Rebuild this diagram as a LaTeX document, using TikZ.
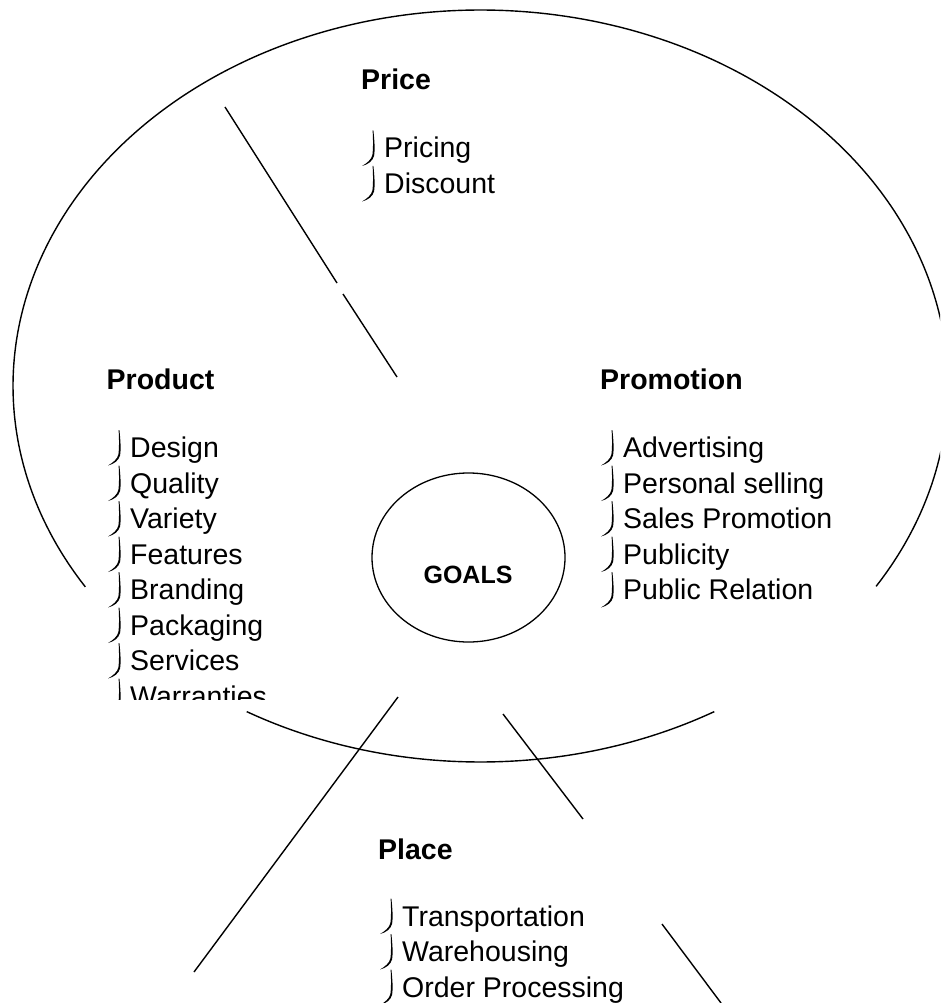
\documentclass[tikz,border=0pt]{standalone}
\usepackage{fontspec}
\setmainfont{Liberation Sans}
\usetikzlibrary{shapes.geometric}
\newcommand\litem[4]{\pic at (#2,#3) {bul}; \node[item] (#1) at (#2,#3) {#4};}
\begin{document}
\begin{tikzpicture}[x=1pt,y=-1pt,
  line/.style={line width=1.4pt},
  head/.style={anchor=base west, inner sep=0pt, font=\fontsize{28.5}{34}\bfseries},
  item/.style={anchor=base west, inner sep=0pt, font=\fontsize{28.5}{34}\selectfont},
  bul/.pic={\fill (-10.6,-27.5) .. controls (-9.6,-18) and (-8.8,-8) .. (-10.0,-2)
        .. controls (-11.3,3) and (-16,6.5) .. (-22,8)
        .. controls (-16.8,5) and (-12.6,1.5) .. (-11.6,-3)
        .. controls (-10.8,-9) and (-10.8,-18) .. (-11.4,-27.5) -- cycle;}
]
\useasboundingbox (0,0) rectangle (940,1003);
\clip (0,0) rectangle (940,1003);

% big ellipse (two arcs)
\draw[line] plot[domain=147.7:392.2, samples=200, smooth] ({480.5+467.5*cos(\x)},{386+376*sin(\x)});
\draw[line] plot[domain=60:120, samples=60, smooth] ({480.5+467.5*cos(\x)},{386+376*sin(\x)});

% goals
\node[draw, ellipse, line width=1.3pt, minimum width=193, minimum height=169, inner sep=0pt] (goals) at (468.5,557.5) {};
\node[anchor=base, inner sep=0pt, font=\fontsize{25}{30}\bfseries] (goalstext) at (468,583.5) {GOALS};

% separating lines
\coordinate (a1) at (225,107); \coordinate (a2) at (337,283);
\coordinate (a3) at (343,294); \coordinate (a4) at (397,377);
\coordinate (b1) at (398,697); \coordinate (b2) at (194,972);
\coordinate (c1) at (503,714); \coordinate (c2) at (583,819);
\coordinate (d1) at (662,924); \coordinate (d2) at (721,1003);
\draw[line] (a1) -- (a2);
\draw[line] (a3) -- (a4);
\draw[line] (b1) -- (b2);
\draw[line] (c1) -- (c2);
\draw[line] (d1) -- (d2);

% Price
\node[head] (price) at (361,90) {Price};
\litem{pricing}{384}{158}{Pricing}
\litem{discount}{384}{193.5}{Discount}

% Product
\node[head] (product) at (106.5,389) {Product};
\litem{design}{130}{457.5}{Design}
\litem{quality}{130}{493}{Quality}
\litem{variety}{130}{528.5}{Variety}
\litem{features}{130}{564}{Features}
\litem{branding}{130}{599.5}{Branding}
\litem{packaging}{130}{635}{Packaging}
\litem{services}{130}{670.5}{Services}
\begin{scope}
\clip (0,0) rectangle (940,699);
\litem{warranties}{130}{706}{Warranties}
\end{scope}

% Promotion
\node[head] (promotion) at (600,389) {Promotion};
\litem{advertising}{623}{457.5}{Advertising}
\litem{personal}{623}{493}{Personal selling}
\litem{sales}{623}{528.5}{Sales Promotion}
\litem{publicity}{623}{564}{Publicity}
\litem{publicrel}{623}{599.5}{Public Relation}

% Place
\node[head] (place) at (378,859) {Place};
\litem{transport}{402}{926}{Transportation}
\litem{warehouse}{402}{961.5}{Warehousing}
\litem{order}{402}{997}{Order Processing}
\end{tikzpicture}
\end{document}
